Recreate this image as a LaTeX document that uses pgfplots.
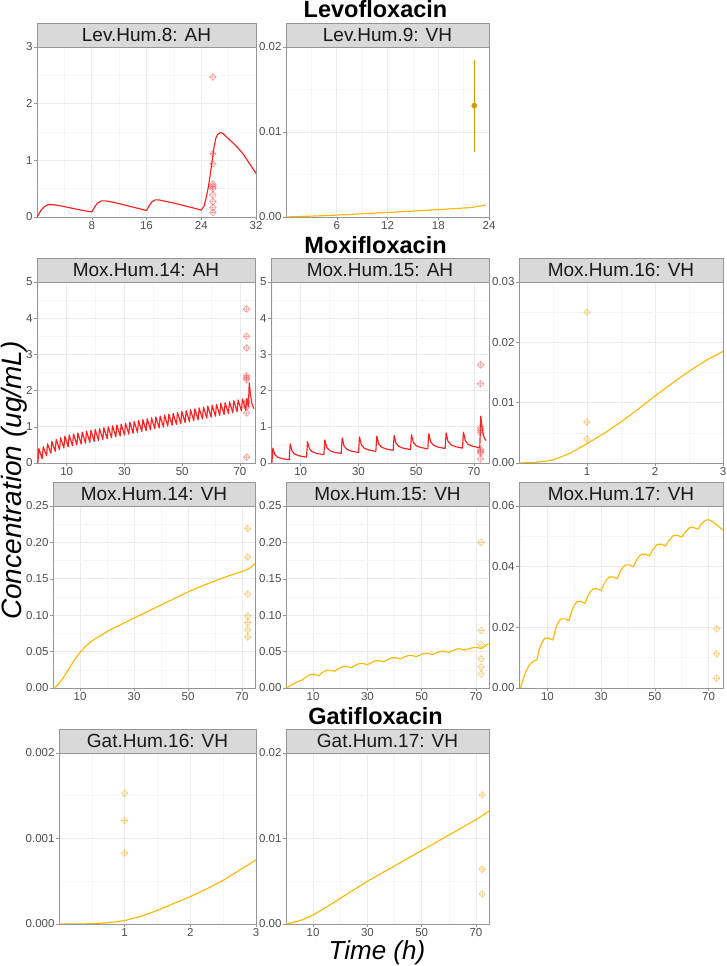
\documentclass[border=0pt]{standalone}
\usepackage{pgfplots}
\pgfplotsset{compat=1.18}
\usepackage{fontspec}
\setmainfont{Liberation Sans}
\definecolor{redline}{RGB}{255,30,30}
\definecolor{orgline}{RGB}{255,183,0}
\definecolor{redpt}{RGB}{235,60,60}
\definecolor{orgpt}{RGB}{235,170,30}
\definecolor{errc}{RGB}{210,155,0}
\definecolor{stripfill}{RGB}{217,217,217}
\definecolor{bordc}{RGB}{150,150,150}
\definecolor{gridc}{RGB}{235,235,235}
\definecolor{mgridc}{RGB}{245,245,245}
\definecolor{ticklab}{RGB}{77,77,77}

\pgfdeclareplotmark{dplus}{%
 \pgfpathmoveto{\pgfqpoint{0pt}{\pgfplotmarksize}}%
 \pgfpathlineto{\pgfqpoint{\pgfplotmarksize}{0pt}}%
 \pgfpathlineto{\pgfqpoint{0pt}{-\pgfplotmarksize}}%
 \pgfpathlineto{\pgfqpoint{-\pgfplotmarksize}{0pt}}%
 \pgfpathclose
 \pgfpathmoveto{\pgfqpoint{0pt}{\pgfplotmarksize}}%
 \pgfpathlineto{\pgfqpoint{0pt}{-\pgfplotmarksize}}%
 \pgfpathmoveto{\pgfqpoint{-\pgfplotmarksize}{0pt}}%
 \pgfpathlineto{\pgfqpoint{\pgfplotmarksize}{0pt}}%
 \pgfusepathqstroke}

\pgfplotsset{
 panel/.style={
  scale only axis, anchor=south west,
  clip mode=individual,
  axis line style={draw=bordc, line width=0.6pt},
  tick pos=left, tick align=outside,
  major tick length=3pt, minor tick length=0pt,
  tick style={draw=bordc, line width=0.5pt},
  grid=both,
  major grid style={draw=gridc, line width=0.8pt},
  minor grid style={draw=mgridc, line width=0.5pt},
  tick label style={font=\fontsize{11.5}{12}\selectfont, text=ticklab, inner sep=1.3pt},
  /pgf/number format/assume math mode=true,
  scaled ticks=false,
  ymin=0,
 },
 yfix/.style={yticklabel style={/pgf/number format/.cd, fixed, fixed zerofill, precision=#1}},
 redl/.style={no marks, color=redline, line width=1.15pt, line join=round},
 orgl/.style={no marks, color=orgline, line width=1.15pt, line join=round},
 redp/.style={only marks, mark=dplus, mark size=3.4pt, mark options={draw=redpt, draw opacity=0.5, line width=0.6pt}},
 orgp/.style={only marks, mark=dplus, mark size=3.4pt, mark options={draw=orgpt, draw opacity=0.55, line width=0.6pt}},
}
\newcommand{\strip}[1]{%
 \draw[fill=stripfill, draw=bordc, line width=0.6pt] (rel axis cs:0,1) rectangle ([yshift=24pt]rel axis cs:1,1);
 \node[font=\fontsize{19}{20}\selectfont, text=black!90] at ([yshift=12pt]rel axis cs:0.5,1) {#1};}

\begin{document}
\begin{tikzpicture}
\useasboundingbox (0,0) rectangle (726pt,966pt);

% titles
\node[anchor=base, font=\fontsize{23.5}{24}\selectfont\bfseries] at (375.5pt,948.7pt) {Levofloxacin};
\node[anchor=base, font=\fontsize{23.5}{24}\selectfont\bfseries] at (375.5pt,712.7pt) {Moxifloxacin};
\node[anchor=base, font=\fontsize{23.5}{24}\selectfont\bfseries] at (375.5pt,241pt) {Gatifloxacin};
\node[anchor=base, rotate=90, font=\fontsize{28}{30}\selectfont\itshape] at (21.5pt,485.5pt) {Concentration (ug/mL)};
\node[anchor=base, font=\fontsize{26}{28}\selectfont\itshape, inner sep=0pt] at (377pt,6.5pt) {Time (h)};

% ---- Row 1 ----
\begin{axis}[panel, at={(37pt,749pt)}, width=219pt, height=170pt,
  xmin=0, xmax=32, ymax=3, xtick={8,16,24,32}, minor xtick={4,12,20,28},
  ytick={0,1,2,3}, minor ytick={0.5,1.5,2.5}]
\addplot[redl] coordinates {(0,0)(0.3,0.06)(0.6,0.12)(1,0.175)(1.6,0.217)(2.5,0.215)(3.5,0.195)(4.5,0.17)(5.5,0.145)(6.5,0.12)(7.5,0.10)(8,0.09)(8.4,0.17)(8.8,0.24)(9.4,0.285)(10,0.285)(10.5,0.275)(11.5,0.25)(12.5,0.22)(13.5,0.19)(14.5,0.16)(15.5,0.13)(16,0.115)(16.4,0.2)(16.8,0.27)(17.3,0.303)(17.9,0.30)(19,0.27)(20,0.245)(21,0.215)(22,0.185)(23,0.155)(24,0.12)(24.4,0.19)(24.7,0.33)(25.06,0.54)(25.4,0.82)(25.8,1.18)(26.1,1.38)(26.4,1.46)(26.8,1.49)(27.2,1.47)(27.8,1.40)(28.7,1.30)(29.5,1.20)(30.2,1.10)(31,0.95)(32,0.77)};
\addplot[redp] coordinates {(25.7,2.47)(25.7,1.12)(25.7,0.94)(25.7,0.58)(25.7,0.54)(25.7,0.50)(25.7,0.39)(25.7,0.27)(25.7,0.17)(25.7,0.08)};
\strip{Lev.Hum.8: AH}
\end{axis}

\begin{axis}[panel, yfix=2, at={(286pt,749pt)}, width=203pt, height=170pt,
  xmin=0, xmax=24, ymax=0.02, xtick={6,12,18,24}, minor xtick={3,9,15,21},
  ytick={0,0.01,0.02}, minor ytick={0.005,0.015}]
\addplot[orgl] coordinates {(0,0)(3,0.0001)(6,0.00022)(9,0.00038)(12,0.00053)(15,0.0007)(18,0.00087)(21,0.00105)(22,0.00112)(23,0.0013)(23.6,0.00142)};
\addplot[only marks, mark=*, mark size=2.6pt, color=errc,
  error bars/.cd, y dir=both, y explicit, error mark=none,
  error bar style={line width=1pt, color=errc}] coordinates {(22.26,0.0131) +- (0,0.0054)};
\strip{Lev.Hum.9: VH}
\end{axis}

% ---- Row 2 ----
\begin{axis}[panel, at={(37pt,503pt)}, width=218pt, height=181pt,
  xmin=-0.3, xmax=75.2, ymax=5, xtick={10,30,50,70}, minor xtick={0,20,40,60},
  ytick={0,1,2,3,4,5}, minor ytick={0.5,1.5,2.5,3.5,4.5}]
\addplot[redl] coordinates {(0,0)(0.35,0.40)(1.5,0.12)(1.85,0.45)(3,0.20)(3.35,0.53)(4.5,0.27)(4.85,0.60)(6,0.32)(6.35,0.65)(7.5,0.37)(7.85,0.70)(9,0.41)(9.35,0.74)(10.5,0.448)(10.85,0.778)(12,0.473)(12.35,0.803)(13.5,0.498)(13.85,0.828)(15,0.523)(15.35,0.853)(16.5,0.547)(16.85,0.877)(18,0.572)(18.35,0.902)(19.5,0.597)(19.85,0.927)(21,0.622)(21.35,0.952)(22.5,0.646)(22.85,0.976)(24,0.671)(24.35,1.001)(25.5,0.696)(25.85,1.026)(27,0.721)(27.35,1.051)(28.5,0.745)(28.85,1.075)(30,0.77)(30.35,1.10)(31.5,0.795)(31.85,1.125)(33,0.82)(33.35,1.15)(34.5,0.844)(34.85,1.174)(36,0.869)(36.35,1.199)(37.5,0.894)(37.85,1.224)(39,0.919)(39.35,1.249)(40.5,0.943)(40.85,1.273)(42,0.968)(42.35,1.298)(43.5,0.993)(43.85,1.323)(45,1.018)(45.35,1.348)(46.5,1.042)(46.85,1.372)(48,1.067)(48.35,1.397)(49.5,1.092)(49.85,1.422)(51,1.117)(51.35,1.447)(52.5,1.141)(52.85,1.471)(54,1.166)(54.35,1.496)(55.5,1.191)(55.85,1.521)(57,1.216)(57.35,1.546)(58.5,1.24)(58.85,1.57)(60,1.265)(60.35,1.595)(61.5,1.29)(61.85,1.62)(63,1.315)(63.35,1.645)(64.5,1.339)(64.85,1.669)(66,1.364)(66.35,1.694)(67.5,1.389)(67.85,1.719)(69,1.414)(69.35,1.744)(70.5,1.438)(70.85,1.768)(72,1.463)(72.4,1.78)(72.9,1.55)(73.2,2.21)(73.7,1.85)(74.2,1.62)(74.8,1.50)};
\addplot[redp] coordinates {(72.3,4.25)(72.3,3.5)(72.3,3.18)(72.3,2.41)(72.3,2.35)(72.3,2.3)(72.3,1.70)(72.3,1.66)(72.3,1.55)(72.3,1.38)(72.3,0.16)};
\strip{Mox.Hum.14: AH}
\end{axis}

\begin{axis}[panel, at={(271pt,503pt)}, width=218pt, height=181pt,
  xmin=-0.3, xmax=75.2, ymax=5, xtick={10,30,50,70}, minor xtick={0,20,40,60},
  ytick={0,1,2,3,4,5}, minor ytick={0.5,1.5,2.5,3.5,4.5}]
\addplot[redl] coordinates {(0,0)(0.35,0.41)(1,0.234)(2,0.16)(3.5,0.122)(6,0.09)(6.35,0.53)(7,0.327)(8,0.241)(9.5,0.197)(12,0.16)(12.35,0.59)(13,0.392)(14,0.309)(15.5,0.266)(18,0.23)(18.35,0.64)(19,0.431)(20,0.344)(21.5,0.298)(24,0.26)(24.35,0.69)(25,0.47)(26,0.378)(27.5,0.33)(30,0.29)(30.35,0.72)(31,0.50)(32,0.408)(33.5,0.36)(36,0.32)(36.35,0.74)(37,0.526)(38,0.436)(39.5,0.389)(42,0.35)(42.35,0.76)(43,0.546)(44,0.456)(45.5,0.409)(48,0.37)(48.35,0.78)(49,0.566)(50,0.476)(51.5,0.429)(54,0.39)(54.35,0.81)(55,0.585)(56,0.49)(57.5,0.441)(60,0.40)(60.35,0.83)(61,0.599)(62,0.502)(63.5,0.452)(66,0.41)(66.35,0.85)(67,0.614)(68,0.515)(69.5,0.463)(72,0.42)(72.35,1.29)(73,0.85)(73.6,0.68)(74.2,0.62)};
\addplot[redp] coordinates {(72.3,2.71)(72.3,2.19)(72.3,0.97)(72.3,0.9)(72.3,0.83)(72.3,0.37)(72.3,0.32)(72.3,0.28)(72.3,0.11)};
\strip{Mox.Hum.15: AH}
\end{axis}

\begin{axis}[panel, yfix=2, at={(519pt,503pt)}, width=204pt, height=181pt,
  xmin=0, xmax=3, ymax=0.03, xtick={1,2,3}, minor xtick={0.5,1.5,2.5},
  ytick={0,0.01,0.02,0.03}, minor ytick={0.005,0.015,0.025}]
\addplot[orgl] coordinates {(0,0)(0.25,0.0001)(0.5,0.0005)(0.75,0.0016)(1.0,0.0032)(1.25,0.0049)(1.5,0.0068)(1.75,0.0089)(2.0,0.0111)(2.25,0.0132)(2.5,0.0152)(2.75,0.0170)(3.0,0.0185)};
\addplot[orgp] coordinates {(1,0.025)(1,0.0068)(1,0.004)};
\strip{Mox.Hum.16: VH}
\end{axis}

% ---- Row 3 ----
\begin{axis}[panel, yfix=2, at={(53pt,278pt)}, width=202pt, height=182pt,
  xmin=0, xmax=74.8, ymax=0.25, xtick={10,30,50,70}, minor xtick={0,20,40,60},
  ytick={0,0.05,0.1,0.15,0.2,0.25}, minor ytick={0.025,0.075,0.125,0.175,0.225}]
\addplot[orgl] coordinates {(0,0)(1,0.0015)(2,0.005)(4,0.015)(6,0.027)(8,0.039)(10,0.049)(12,0.057)(14,0.0635)(16,0.0685)(18,0.073)(21,0.0795)(25,0.087)(30,0.096)(35,0.105)(40,0.114)(45,0.123)(50,0.132)(55,0.140)(60,0.147)(65,0.154)(70,0.160)(72,0.163)(73,0.165)(74,0.168)(74.8,0.171)};
\addplot[orgp] coordinates {(72.1,0.219)(72.1,0.18)(72.1,0.129)(72.1,0.099)(72.1,0.090)(72.1,0.080)(72.1,0.070)};
\strip{Mox.Hum.14: VH}
\end{axis}

\begin{axis}[panel, yfix=2, at={(286pt,278pt)}, width=203pt, height=182pt,
  xmin=0, xmax=74.8, ymax=0.25, xtick={10,30,50,70}, minor xtick={0,20,40,60},
  ytick={0,0.05,0.1,0.15,0.2,0.25}, minor ytick={0.025,0.075,0.125,0.175,0.225}]
\addplot[orgl] coordinates {(0,0)(1.5,0.003)(3,0.006)(4.5,0.009)(6,0.011)(7.5,0.0155)(9,0.0185)(10.5,0.0185)(12,0.017)(13.5,0.0215)(15,0.0245)(16.5,0.0245)(18,0.023)(19.5,0.027)(21,0.0295)(22.5,0.0295)(24,0.028)(25.5,0.031)(27,0.0335)(28.5,0.0335)(30,0.032)(31.5,0.035)(33,0.0375)(34.5,0.0375)(36,0.036)(37.5,0.039)(39,0.0415)(40.5,0.0415)(42,0.040)(43.5,0.0425)(45,0.0445)(46.5,0.0445)(48,0.043)(49.5,0.0455)(51,0.0475)(52.5,0.0475)(54,0.046)(55.5,0.0485)(57,0.0505)(58.5,0.0505)(60,0.049)(61.5,0.0515)(63,0.0535)(64.5,0.0535)(66,0.052)(67.5,0.054)(69,0.0555)(70.5,0.0555)(72,0.054)(73,0.0565)(74,0.0595)(74.6,0.0605)};
\addplot[orgp] coordinates {(71.9,0.20)(71.9,0.079)(71.9,0.060)(71.9,0.040)(71.9,0.029)(71.9,0.019)};
\strip{Mox.Hum.15: VH}
\end{axis}

\begin{axis}[panel, yfix=2, at={(519pt,278pt)}, width=204pt, height=182pt,
  xmin=-0.6, xmax=75.4, ymax=0.06, xtick={10,30,50,70}, minor xtick={0,20,40,60},
  ytick={0,0.02,0.04,0.06}, minor ytick={0.01,0.03,0.05}]
\addplot[orgl] coordinates {(0,0)(1,0.003)(2,0.0055)(3,0.0072)(4,0.0083)(5,0.0090)(6,0.0092)(7,0.0128)(8,0.0151)(9,0.0164)(10.5,0.0164)(12,0.0158)(13,0.0193)(14,0.0216)(15,0.0228)(16.5,0.0228)(18,0.0222)(19,0.0253)(20,0.0273)(21,0.0285)(22.5,0.0285)(24,0.0279)(25,0.0302)(26,0.0317)(27,0.0327)(28.5,0.0327)(30,0.0321)(31,0.0342)(32,0.0356)(33,0.0366)(34.5,0.0366)(36,0.0360)(37,0.0382)(38,0.0396)(39,0.0406)(40.5,0.0406)(42,0.0400)(43,0.0419)(44,0.0432)(45,0.0441)(46.5,0.0441)(48,0.0435)(49,0.0453)(50,0.0465)(51,0.0474)(52.5,0.0474)(54,0.0468)(55,0.0484)(56,0.0494)(57,0.0503)(58.5,0.0503)(60,0.0497)(61,0.0511)(62,0.0520)(63,0.0529)(64.5,0.0529)(66,0.0523)(67,0.0536)(68,0.0547)(69,0.0553)(70,0.0555)(71,0.0551)(72,0.0545)(73,0.0538)(74,0.0531)(75.3,0.0521)};
\addplot[orgp] coordinates {(73,0.0195)(73,0.0113)(73,0.0032)};
\strip{Mox.Hum.17: VH}
\end{axis}

% ---- Row 4 ----
\begin{axis}[panel, yfix=3, at={(59pt,42pt)}, width=197pt, height=171pt,
  xmin=0, xmax=3, ymax=0.002, xtick={1,2,3}, minor xtick={0.5,1.5,2.5},
  ytick={0,0.001,0.002}, minor ytick={0.0005,0.0015}]
\addplot[orgl] coordinates {(0,0)(0.25,0)(0.5,0.000003)(0.75,0.000015)(1,0.00004)(1.25,0.00009)(1.5,0.00016)(1.75,0.00024)(2,0.00032)(2.25,0.00041)(2.5,0.00051)(2.75,0.00063)(3,0.00075)};
\addplot[orgp] coordinates {(1,0.00153)(1,0.00121)(1,0.00083)};
\strip{Gat.Hum.16: VH}
\end{axis}

\begin{axis}[panel, yfix=2, at={(286pt,42pt)}, width=203pt, height=171pt,
  xmin=0, xmax=74.8, ymax=0.02, xtick={10,30,50,70}, minor xtick={0,20,40,60},
  ytick={0,0.01,0.02}, minor ytick={0.005,0.015}]
\addplot[orgl] coordinates {(0,0)(3,0.0002)(6,0.0005)(10,0.00105)(15,0.0020)(20,0.0030)(25,0.0040)(30,0.0050)(35,0.0059)(40,0.0068)(45,0.0077)(50,0.0086)(55,0.0095)(60,0.0104)(65,0.0113)(70,0.0122)(74.8,0.0132)};
\addplot[orgp] coordinates {(72.3,0.0151)(72.3,0.0064)(72.3,0.0035)};
\strip{Gat.Hum.17: VH}
\end{axis}

\end{tikzpicture}
\end{document}
